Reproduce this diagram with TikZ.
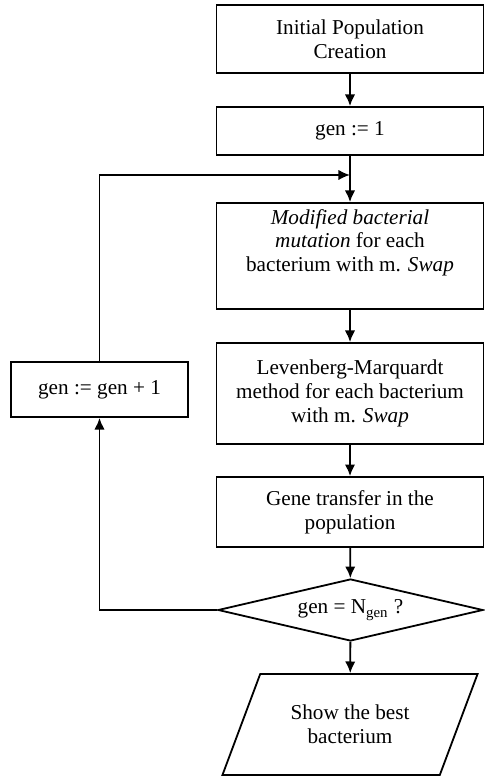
\documentclass[tikz,border=0pt]{standalone}
\usepackage{fontspec}
\setmainfont{Liberation Serif}
\usetikzlibrary{shapes.geometric,arrows.meta}

\begin{document}
\begin{tikzpicture}[x=0.5pt,y=-0.5pt,
	font=\fontsize{10.6}{11.8}\selectfont,
	block/.style={draw=black,line width=0.9pt,align=center,inner sep=0pt,minimum width=133.5pt},
	flow/.style={->,>={Latex[length=5.8pt,width=5.2pt]},draw=black,line width=0.9pt}]

	\useasboundingbox (0,0) rectangle (484,779);

	\node[block,minimum height=34pt] (init) at (350,39) {Initial Population\\Creation};
	\node[block,minimum height=24pt] (first) at (350,131) {gen := 1};
	\node[block,minimum height=53pt] (mutate) at (350,256) {\textit{Modified bacterial}\\\textit{mutation} for each\\bacterium with m. \textit{Swap}\\[4pt]};
	\node[block,minimum height=50.5pt] (lm) at (350,393.5) {Levenberg-Marquardt\\method for each bacterium\\with m. \textit{Swap}};
	\node[block,minimum height=35pt] (gene) at (350,512) {Gene transfer in the\\population};
	\node[draw=black,line width=0.9pt,diamond,aspect=4.5,inner sep=0pt,minimum width=132.5pt,minimum height=31pt] (test) at (350.5,610) {gen = N\textsubscript{gen} ?};
	\node[draw=black,line width=0.9pt,trapezium,trapezium left angle=57,trapezium right angle=123,trapezium stretches=true,align=center,inner sep=0pt,minimum width=128pt,minimum height=50.5pt] (show) at (350,724.5) {Show the best\\bacterium};
	\node[block,minimum width=88.5pt,minimum height=27.5pt] (incr) at (99.5,389.5) {gen := gen + 1};
	\coordinate (join) at (350,175);

	\path[flow] (init) -- (first);
	\path[flow] (first) -- (mutate);
	\path[flow] (mutate) -- (lm);
	\path[flow] (lm) -- (gene);
	\path[flow] (gene) -- (test);
	\path[flow] (test) -- (show);
	\path[flow] (test.west) -| (incr.south);
	\path[flow] (incr.north) |- (join);

\end{tikzpicture}
\end{document}
